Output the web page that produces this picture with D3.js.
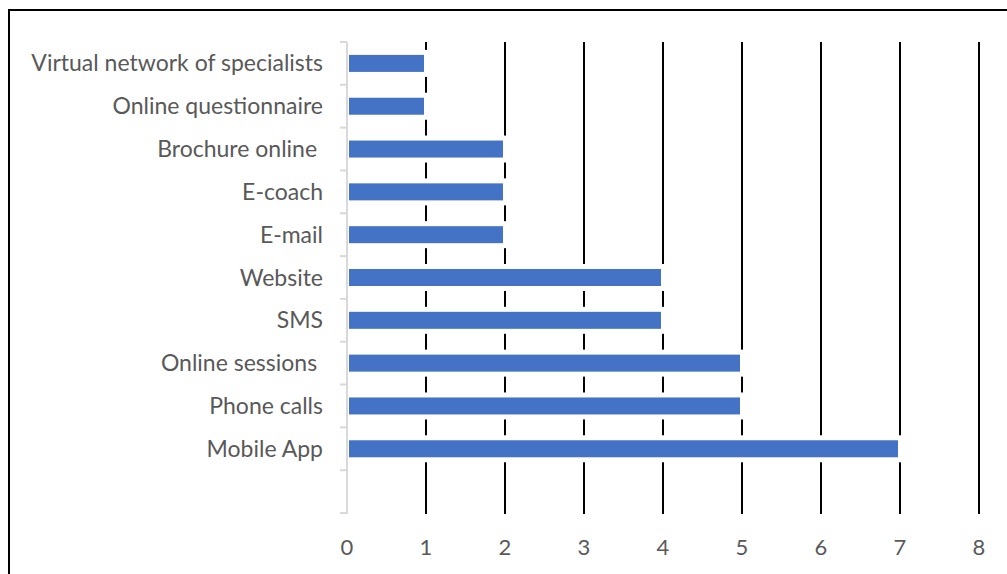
<!DOCTYPE html>
<html>
<head>
<meta charset="utf-8">
<script src="https://cdn.jsdelivr.net/npm/d3@7"></script>
<style>
  body { margin: 0; background: #fff; }
  svg text { font-family: Lato, "Open Sans", sans-serif; fill: #595959; }
</style>
</head>
<body>
<svg id="chart" width="1007" height="574"></svg>
<script>
// categories from top to bottom, last slot is left empty
var categories = ["Virtual network of specialists", "Online questionnaire", "Brochure online ", "E-coach", "E-mail", "Website", "SMS", "Online sessions ", "Phone calls", "Mobile App", ""];
var values = [1, 1, 2, 2, 2, 4, 4, 5, 5, 7, null];
var xTicks = [0, 1, 2, 3, 4, 5, 6, 7, 8];

var svg = d3.select("#chart");
var plotLeft = 347, plotRight = 979, plotTop = 42, plotBottom = 513;

// outer frame (cropped at right and bottom)
svg.append("rect")
  .attr("x", 9).attr("y", 10)
  .attr("width", 1020).attr("height", 600)
  .attr("fill", "none")
  .attr("stroke", "#000")
  .attr("stroke-width", 2);

var x = d3.scaleLinear().domain([0, 8]).range([plotLeft, plotRight]);
var y = d3.scaleBand().domain(d3.range(categories.length)).range([plotTop, plotBottom]).paddingInner(0).paddingOuter(0);

// vertical gridlines
svg.append("g").selectAll("line")
  .data(xTicks.slice(1))
  .enter()
  .append("line")
  .attr("x1", function(d) { return x(d); })
  .attr("x2", function(d) { return x(d); })
  .attr("y1", plotTop)
  .attr("y2", plotBottom + 1)
  .attr("stroke", "#000")
  .attr("stroke-width", 2);

// y axis with light gray line and ticks at band edges
var yAxis = svg.append("g");
yAxis.append("line")
  .attr("x1", plotLeft).attr("x2", plotLeft)
  .attr("y1", plotTop).attr("y2", plotBottom + 1)
  .attr("stroke", "#d9d9d9").attr("stroke-width", 2);
yAxis.selectAll(".tk")
  .data(d3.range(categories.length + 1))
  .enter()
  .append("line")
  .attr("x1", plotLeft - 7).attr("x2", plotLeft)
  .attr("y1", function(i) { return plotTop + i * y.step(); })
  .attr("y2", function(i) { return plotTop + i * y.step(); })
  .attr("stroke", "#d9d9d9").attr("stroke-width", 2);

yAxis.selectAll("text")
  .data(categories)
  .enter()
  .append("text")
  .attr("x", 323)
  .attr("y", function(d, i) { return y(i) + y.bandwidth() / 2; })
  .attr("dy", "0.35em")
  .attr("text-anchor", "end")
  .style("font-size", "23px")
  .style("white-space", "pre")
  .text(function(d) { return d; });

// bars: white halo first, then blue bar
var barData = values.map(function(v, i) { return {v: v, i: i}; }).filter(function(d) { return d.v != null; });
var barH = 17;

svg.append("g").selectAll("rect")
  .data(barData)
  .enter()
  .append("rect")
  .attr("x", x(0) + 1)
  .attr("y", function(d) { return y(d.i) + y.bandwidth() / 2 - barH / 2 - 5; })
  .attr("width", function(d) { return x(d.v) - x(0) + 2; })
  .attr("height", barH + 10)
  .attr("fill", "#fff");

svg.append("g").selectAll("rect")
  .data(barData)
  .enter()
  .append("rect")
  .attr("x", x(0) + 2)
  .attr("y", function(d) { return y(d.i) + y.bandwidth() / 2 - barH / 2; })
  .attr("width", function(d) { return x(d.v) - x(0) - 4; })
  .attr("height", barH)
  .attr("fill", "#4472C4");

// x tick labels
svg.append("g").selectAll("text")
  .data(xTicks)
  .enter()
  .append("text")
  .attr("x", function(d) { return x(d); })
  .attr("y", 555)
  .attr("text-anchor", "middle")
  .style("font-size", "22px")
  .text(function(d) { return d; });
</script>
</body>
</html>
